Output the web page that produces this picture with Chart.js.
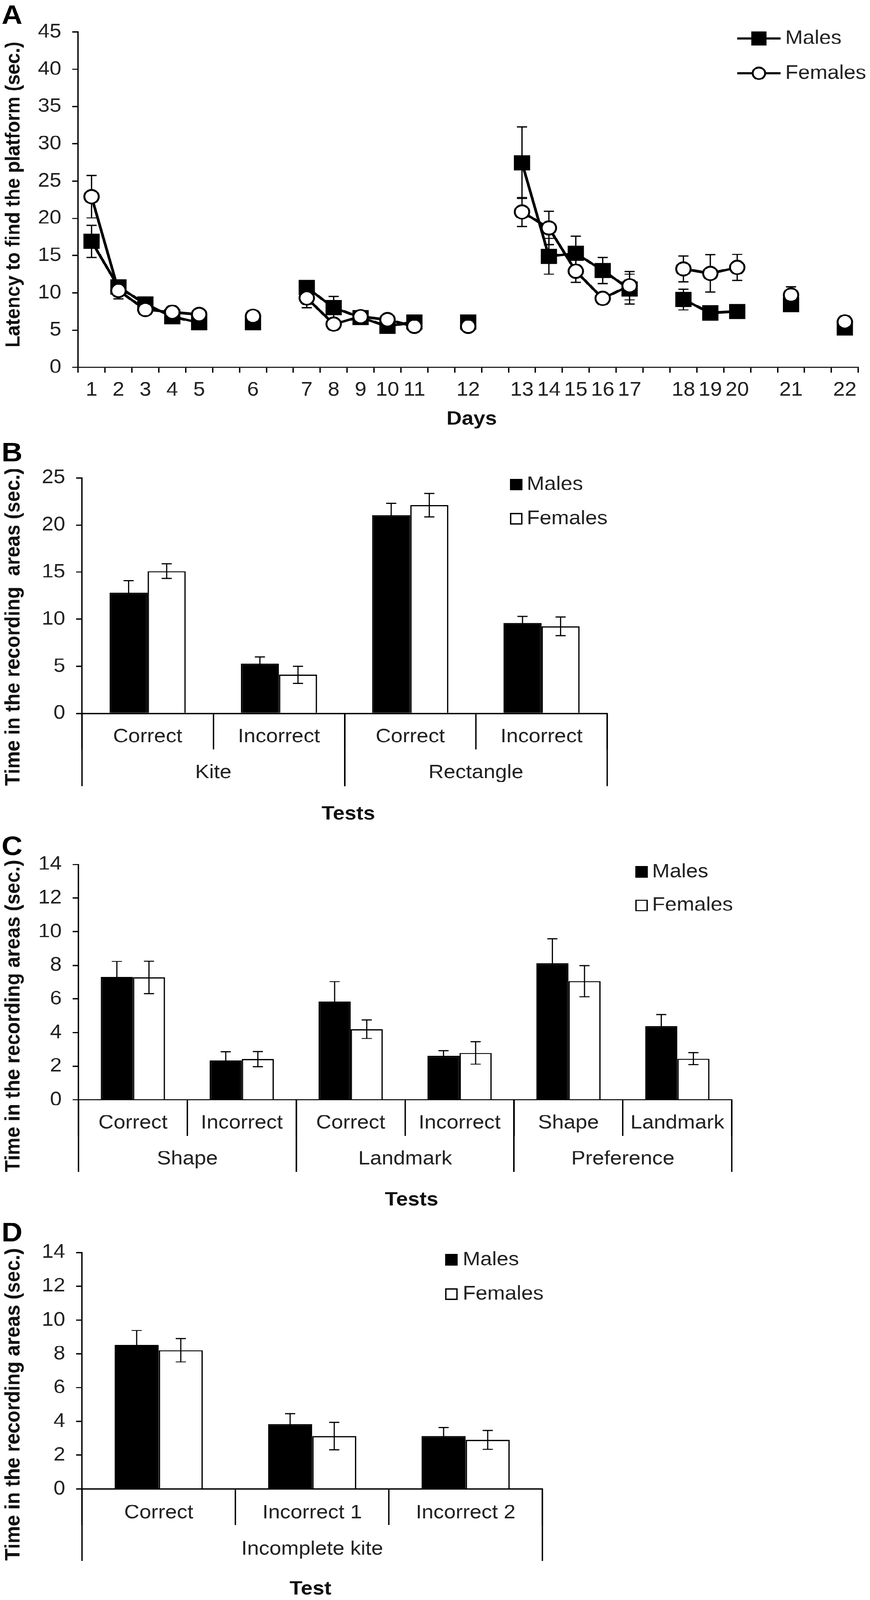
<!DOCTYPE html>
<html>
<head>
<meta charset="utf-8">
<script src="https://cdn.jsdelivr.net/npm/chart.js@4.4.1/dist/chart.umd.min.js"></script>
<style>
html,body{margin:0;padding:0;background:#fff;overflow:hidden;}
#outer{position:relative;width:2228px;height:4408px;overflow:hidden;background:#fff;}
#wrap{position:absolute;left:0;top:0;width:2228px;height:4408px;background:#fff;overflow:hidden;transform-origin:0 0;}
canvas{position:absolute;left:0;}
</style>
</head>
<body>
<div id="outer">
<div id="wrap">
<canvas id="cA" width="2228" height="1190" style="top:0px;width:2228px;height:1190px"></canvas>
<canvas id="cB" width="2228" height="1090" style="top:1190px;width:2228px;height:1090px"></canvas>
<canvas id="cC" width="2228" height="1060" style="top:2280px;width:2228px;height:1060px"></canvas>
<canvas id="cD" width="2228" height="1068" style="top:3340px;width:2228px;height:1068px"></canvas>
</div>
</div>
<script>
// ---------------- DATA ----------------
// Panel A: latency per day (empty labels are the gaps between sessions)
const dayLabels = ['1','2','3','4','5','','6','','7','8','9','10','11','','12','','13','14','15','16','17','','18','19','20','','21','','22'];
const malesA      = [16.9,10.8,8.5,6.8,6.0,null,6.0,null,10.7,8.0,6.7,5.5,6.1,null,6.1,null,27.45,14.9,15.3,13.0,10.5,null,9.1,7.3,7.5,null,8.4,null,5.3];
const malesAErr   = [2.15,0.8,0.5,0.5,0.5,null,0.5,null,0.8,1.5,0.5,0.5,0.5,null,0.5,null,4.8,2.4,2.3,1.75,2.0,null,1.4,0.5,0.5,null,0.5,null,0.5];
const femalesA    = [22.9,10.3,7.75,7.4,7.1,null,6.85,null,9.3,5.8,6.8,6.4,5.5,null,5.5,null,20.85,18.7,12.9,9.25,10.95,null,13.2,12.6,13.4,null,9.7,null,6.1];
const femalesAErr = [2.85,1.1,0.5,0.5,0.5,null,0.5,null,1.3,0.5,0.5,0.5,0.5,null,0.5,null,1.95,2.25,1.5,0.6,1.9,null,1.73,2.5,1.75,null,1.1,null,0.5];

// Panel B
const testsB = ['Correct','Incorrect','Correct','Incorrect'];
const groupsB = ['Kite','Rectangle'];
const groupSizesB = [2,2];
const malesB = [12.8, 5.3, 21.05, 9.6];
const malesBErr = [1.3, 0.7, 1.25, 0.7];
const femalesB = [15.1, 4.1, 22.1, 9.25];
const femalesBErr = [0.78, 0.9, 1.25, 1.0];

// Panel C
const testsC = ['Correct','Incorrect','Correct','Incorrect','Shape','Landmark'];
const groupsC = ['Shape','Landmark','Preference'];
const groupSizesC = [2,2,2];
const malesC = [7.31, 2.34, 5.85, 2.62, 8.12, 4.39];
const malesCErr = [0.92, 0.52, 1.18, 0.30, 1.46, 0.68];
const femalesC = [7.28, 2.42, 4.2, 2.79, 7.06, 2.45];
const femalesCErr = [0.97, 0.45, 0.55, 0.67, 0.93, 0.36];

// Panel D
const testsD = ['Correct','Incorrect 1','Incorrect 2'];
const groupsD = ['Incomplete kite'];
const groupSizesD = [3];
const malesD = [8.53, 3.83, 3.13];
const malesDErr = [0.85, 0.62, 0.51];
const femalesD = [8.21, 3.13, 2.9];
const femalesDErr = [0.69, 0.82, 0.56];

// ---------------- FIT PAGE INTO THE REAL VIEWPORT ----------------
(function () {
  const PAGE_H = 4408;
  const vh = window.innerHeight || PAGE_H;
  const s = Math.min(1, vh / PAGE_H);
  if (s < 1) {
    document.getElementById('wrap').style.transform = 'scale(1,' + s + ')';
    document.getElementById('outer').style.height = Math.floor(PAGE_H * s) + 'px';
  }
})();

// ---------------- STYLE ----------------
const FONT = '"Liberation Sans", Arial, Helvetica, sans-serif';
const TXT = '#222';
const TXTB = '#111';
const AX = 3.5;

// ---------------- PLUGINS ----------------
function drawErrors(chart, opts) {
  const ctx = chart.ctx, ys = chart.scales.y;
  ctx.save();
  ctx.strokeStyle = '#000';
  ctx.lineWidth = opts.width;
  ctx.lineCap = 'butt';
  chart.data.datasets.forEach((ds, i) => {
    if (!ds.errors) return;
    const meta = chart.getDatasetMeta(i);
    meta.data.forEach((el, j) => {
      const v = ds.data[j], e = ds.errors[j];
      if (v == null || e == null) return;
      const x = el.x, h = opts.cap / 2;
      const yt = ys.getPixelForValue(v + e), yb = ys.getPixelForValue(v - e);
      ctx.beginPath();
      ctx.moveTo(x, yt); ctx.lineTo(x, yb);
      ctx.moveTo(x - h, yt); ctx.lineTo(x + h, yt);
      ctx.moveTo(x - h, yb); ctx.lineTo(x + h, yb);
      ctx.stroke();
    });
  });
  ctx.restore();
}
const errorBarsPlugin = {
  id: 'errorBars',
  beforeDatasetsDraw(chart, args, opts) { if (opts.when === 'before') drawErrors(chart, opts); },
  afterDatasetsDraw(chart, args, opts) { if (opts.when === 'after') drawErrors(chart, opts); }
};

const decorPlugin = {
  id: 'decor',
  afterDraw(chart, args, o) {
    const ctx = chart.ctx;
    const ca = chart.chartArea;
    ctx.save();
    ctx.fillStyle = '#000';
    ctx.font = 'bold 74px ' + FONT;
    ctx.textAlign = 'left';
    ctx.textBaseline = 'alphabetic';
    ctx.fillText(o.letter.text, o.letter.x, o.letter.y);
    ctx.fillStyle = TXTB;
    ctx.font = 'bold ' + o.yTitle.size + 'px ' + FONT;
    ctx.save();
    ctx.translate(o.yTitle.x, o.yTitle.y);
    ctx.rotate(-Math.PI / 2);
    ctx.textAlign = 'center';
    ctx.textBaseline = 'middle';
    ctx.fillText(o.yTitle.text, 0, 0);
    ctx.restore();
    ctx.font = 'bold 54px ' + FONT;
    ctx.textAlign = 'center';
    ctx.textBaseline = 'middle';
    ctx.fillText(o.xTitle.text, o.xTitle.x, o.xTitle.y);
    if (o.groups) {
      const xs = chart.scales.x;
      const n = chart.data.labels.length;
      const cw = (ca.right - ca.left) / n;
      ctx.strokeStyle = '#000';
      ctx.lineWidth = AX;
      ctx.fillStyle = TXT;
      ctx.font = '54px ' + FONT;
      let s = 0;
      const bounds = [];
      o.groups.labels.forEach((lab, gi) => {
        const e = s + o.groups.sizes[gi] - 1;
        const lx = xs.getPixelForValue(s) - cw / 2;
        const rx = xs.getPixelForValue(e) + cw / 2;
        bounds.push(lx, rx);
        ctx.fillText(lab, (lx + rx) / 2, ca.bottom + o.groups.labelDy);
        s = e + 1;
      });
      bounds.forEach(bx => {
        const px = Math.round(bx);
        ctx.beginPath();
        ctx.moveTo(px, ca.bottom);
        ctx.lineTo(px, ca.bottom + o.groups.lineLen);
        ctx.stroke();
      });
    }
    const L = o.legend;
    ctx.font = '54px ' + FONT;
    ctx.textAlign = 'left';
    ctx.textBaseline = 'middle';
    chart.data.datasets.forEach((ds, i) => {
      const y = L.y0 + i * L.dy;
      ctx.strokeStyle = '#000';
      if (L.type === 'line') {
        ctx.lineWidth = 6.5;
        ctx.beginPath();
        ctx.moveTo(L.lx1, y); ctx.lineTo(L.lx2, y);
        ctx.stroke();
        const mx = (L.lx1 + L.lx2) / 2;
        if (ds.pointStyle === 'rect') {
          ctx.fillStyle = '#000';
          ctx.fillRect(mx - 19.5, y - 19.5, 39, 39);
        } else {
          ctx.fillStyle = '#fff';
          ctx.lineWidth = 5;
          ctx.beginPath();
          ctx.arc(mx, y, 16, 0, Math.PI * 2);
          ctx.fill();
          ctx.stroke();
        }
      } else {
        const bs = L.box;
        ctx.fillStyle = ds.backgroundColor;
        ctx.fillRect(L.bx, y - bs / 2, bs, bs);
        ctx.lineWidth = 3.5;
        ctx.strokeRect(L.bx + 1.75, y - bs / 2 + 1.75, bs - 3.5, bs - 3.5);
      }
      ctx.fillStyle = TXT;
      ctx.fillText(ds.label, L.tx, y);
    });
    ctx.restore();
  }
};

// ---------------- BUILDERS ----------------
const XH = 130;
function layoutFor(W, H, area) {
  return { padding: { left: 0, top: area.top, right: W - area.right, bottom: H - area.bottom - XH } };
}
function yScale(area, max, step, pad) {
  return {
    min: 0, max: max,
    afterFit: s => { s.width = area.left; },
    ticks: { stepSize: step, font: { family: FONT, size: 54 }, color: TXT, padding: pad },
    grid: { drawOnChartArea: false, drawTicks: true, tickLength: 15, lineWidth: AX, color: '#000', tickColor: '#000' },
    border: { display: true, color: '#000', width: AX },
    title: { display: false }
  };
}
function xBarScale(tickLen, pad) {
  return {
    type: 'category',
    offset: true,
    z: 1,
    afterFit: s => { s.height = XH; },
    ticks: { autoSkip: false, maxRotation: 0, minRotation: 0, font: { family: FONT, size: 54 }, color: TXT, padding: pad },
    grid: { offset: true, drawOnChartArea: false, drawTicks: true, tickLength: tickLen, lineWidth: AX, color: '#000', tickColor: '#000' },
    border: { display: true, color: '#000', width: AX }
  };
}

const common = {
  responsive: false,
  animation: false,
  devicePixelRatio: 1,
  events: []
};

// ---------------- PANEL A ----------------
(function () {
  const W = 2228, H = 1190;
  const area = { left: 200, top: 88, right: 2217, bottom: 1012 };
  new Chart(document.getElementById('cA'), {
    type: 'line',
    data: {
      labels: dayLabels,
      datasets: [
        { label: 'Males', data: malesA, errors: malesAErr, order: 2,
          borderColor: '#000', borderWidth: 7, tension: 0, spanGaps: false, fill: false,
          pointStyle: 'rect', pointRadius: 28, pointBackgroundColor: '#000', pointBorderColor: '#000', pointBorderWidth: 2 },
        { label: 'Females', data: femalesA, errors: femalesAErr, order: 1,
          borderColor: '#000', borderWidth: 7, tension: 0, spanGaps: false, fill: false,
          pointStyle: 'circle', pointRadius: 18.5, pointBackgroundColor: '#fff', pointBorderColor: '#000', pointBorderWidth: 5 }
      ]
    },
    options: Object.assign({}, common, {
      layout: layoutFor(W, H, area),
      scales: {
        x: {
          type: 'category', offset: true,
          afterFit: s => { s.height = XH; },
          ticks: { autoSkip: false, maxRotation: 0, minRotation: 0, font: { family: FONT, size: 54 }, color: TXT, padding: 16 },
          grid: { offset: true, drawOnChartArea: false, drawTicks: true, tickLength: 15, lineWidth: AX, color: '#000', tickColor: '#000' },
          border: { display: true, color: '#000', width: AX }
        },
        y: yScale(area, 45, 5, 28)
      },
      plugins: {
        legend: { display: false }, tooltip: { enabled: false }, title: { display: false },
        errorBars: { when: 'before', width: 3.3, cap: 26 },
        decor: {
          letter: { text: 'A', x: 4, y: 66 },
          yTitle: { text: 'Latency to find the platform (sec.)', x: 36, y: 536, size: 52.5 },
          xTitle: { text: 'Days', x: 1208, y: 1155 },
          legend: { type: 'line', lx1: 1888, lx2: 1999, y0: 106, dy: 96, tx: 2011 }
        }
      }
    }),
    plugins: [errorBarsPlugin, decorPlugin]
  });
})();

// ---------------- BAR PANELS ----------------
function barPanel(id, W, H, area, labels, males, malesErr, females, femalesErr, catPct, ymax, ystep, xpad, deco) {
  new Chart(document.getElementById(id), {
    type: 'bar',
    data: {
      labels: labels,
      datasets: [
        { label: 'Males', data: males, errors: malesErr, backgroundColor: '#000', borderColor: '#000', borderWidth: 3.5,
          barPercentage: 1.0, categoryPercentage: catPct },
        { label: 'Females', data: females, errors: femalesErr, backgroundColor: '#fff', borderColor: '#000', borderWidth: 3.5,
          barPercentage: 1.0, categoryPercentage: catPct }
      ]
    },
    options: Object.assign({}, common, {
      layout: layoutFor(W, H, area),
      scales: { x: xBarScale(99, xpad), y: yScale(area, ymax, ystep, 28) },
      plugins: {
        legend: { display: false }, tooltip: { enabled: false }, title: { display: false },
        errorBars: { when: 'after', width: 3, cap: 26 },
        decor: deco
      }
    }),
    plugins: [errorBarsPlugin, decorPlugin]
  });
}

barPanel('cB', 2228, 1090, { left: 210, top: 126.5, right: 1555, bottom: 775.5 },
  testsB, malesB, malesBErr, femalesB, femalesBErr, 0.58, 25, 5, -67, {
    letter: { text: 'B', x: 4, y: 81 },
    yTitle: { text: 'Time in the recording  areas (sec.)', x: 35, y: 537, size: 54 },
    xTitle: { text: 'Tests', x: 892, y: 1053 },
    groups: { labels: groupsB, sizes: groupSizesB, labelDy: 164, lineLen: 200 },
    legend: { type: 'box', bx: 1306, box: 32, y0: 145, dy: 94, tx: 1349 }
  });

barPanel('cC', 2228, 1060, { left: 201, top: 101.6, right: 1874, bottom: 750 },
  testsC, malesC, malesCErr, femalesC, femalesCErr, 0.59, 14, 2, -67, {
    letter: { text: 'C', x: 4, y: 76 },
    yTitle: { text: 'Time in the recording areas (sec.)', x: 35, y: 519, size: 54 },
    xTitle: { text: 'Tests', x: 1054, y: 1026 },
    groups: { labels: groupsC, sizes: groupSizesC, labelDy: 163, lineLen: 198 },
    legend: { type: 'box', bx: 1627, box: 32, y0: 122, dy: 92.5, tx: 1670 }
  });

barPanel('cD', 2228, 1068, { left: 210, top: 110.5, right: 1389, bottom: 762 },
  testsD, malesD, malesDErr, femalesD, femalesDErr, 0.575, 14, 2, -65, {
    letter: { text: 'D', x: 4, y: 80 },
    yTitle: { text: 'Time in the recording areas (sec.)', x: 35, y: 529, size: 54 },
    xTitle: { text: 'Test', x: 795, y: 1038 },
    groups: { labels: groupsD, sizes: groupSizesD, labelDy: 166, lineLen: 198 },
    legend: { type: 'box', bx: 1140, box: 32, y0: 131, dy: 94, tx: 1185 }
  });
</script>
</body>
</html>
